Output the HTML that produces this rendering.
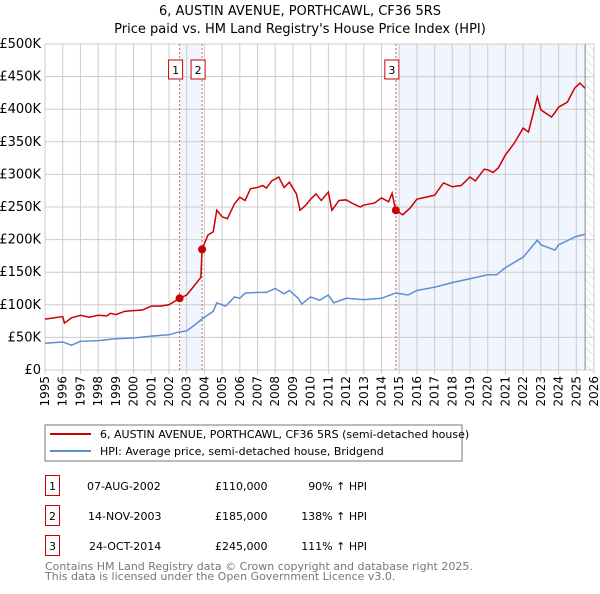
<!DOCTYPE html>
<html><head><meta charset="utf-8"><style>
body{margin:0;background:#fff;font-family:"DejaVu Sans","Liberation Sans",sans-serif;}
svg text{font-family:"DejaVu Sans","Liberation Sans",sans-serif;}
</style></head><body>
<svg id="c" width="600" height="590" xmlns="http://www.w3.org/2000/svg">
<defs><pattern id="hatch" width="6" height="6" patternUnits="userSpaceOnUse" patternTransform="rotate(-45)"><line x1="0" y1="0" x2="0" y2="6" stroke="#ccc" stroke-width="1"/></pattern></defs>
<text x="300" y="15" text-anchor="middle" font-size="13">6, AUSTIN AVENUE, PORTHCAWL, CF36 5RS</text>
<text x="300" y="33" text-anchor="middle" font-size="13">Price paid vs. HM Land Registry's House Price Index (HPI)</text>
<g id="plot"></g>
<rect x="45" y="425" width="417" height="36" fill="#fff" stroke="#777"/>
<line x1="50" y1="434" x2="91" y2="434" stroke="#cc0000" stroke-width="2"/>
<text x="100" y="438" font-size="11">6, AUSTIN AVENUE, PORTHCAWL, CF36 5RS (semi-detached house)</text>
<line x1="50" y1="451" x2="91" y2="451" stroke="#5b8fd4" stroke-width="2"/>
<text x="100" y="455" font-size="11">HPI: Average price, semi-detached house, Bridgend</text>
<g font-size="11">
<rect x="45.5" y="475.5" width="14" height="20" fill="none" stroke="#cc0000"/><text x="52.5" y="490" text-anchor="middle">1</text>
<text x="87" y="490">07-AUG-2002</text><text x="215" y="490">£110,000</text><text x="367" y="490" text-anchor="end">90% ↑ HPI</text>
<rect x="45.5" y="505.5" width="14" height="20" fill="none" stroke="#cc0000"/><text x="52.5" y="520" text-anchor="middle">2</text>
<text x="88" y="520">14-NOV-2003</text><text x="215" y="520">£185,000</text><text x="367" y="520" text-anchor="end">138% ↑ HPI</text>
<rect x="45.5" y="535.5" width="14" height="20" fill="none" stroke="#cc0000"/><text x="52.5" y="550" text-anchor="middle">3</text>
<text x="89" y="550">24-OCT-2014</text><text x="215" y="550">£245,000</text><text x="367" y="550" text-anchor="end">111% ↑ HPI</text>
</g>
<text x="45" y="570" font-size="11" fill="#777">Contains HM Land Registry data © Crown copyright and database right 2025.</text>
<text x="45" y="580" font-size="11" fill="#777">This data is licensed under the Open Government Licence v3.0.</text>
</svg>
<script>
const yTicks=[0,50,100,150,200,250,300,350,400,450,500];
const yLabels=["£0","£50K","£100K","£150K","£200K","£250K","£300K","£350K","£400K","£450K","£500K"];
const xYears=[1995,1996,1997,1998,1999,2000,2001,2002,2003,2004,2005,2006,2007,2008,2009,2010,2011,2012,2013,2014,2015,2016,2017,2018,2019,2020,2021,2022,2023,2024,2025,2026];
const redT=[1995.0,1995.5,1996.0,1996.1,1996.5,1997.0,1997.5,1998.0,1998.5,1998.7,1999.0,1999.5,2000.0,2000.5,2001.0,2001.5,2002.0,2002.6,2003.0,2003.3,2003.8,2003.87,2004.2,2004.5,2004.7,2005.0,2005.3,2005.7,2006.0,2006.3,2006.6,2007.0,2007.3,2007.5,2007.8,2008.2,2008.5,2008.8,2009.2,2009.4,2009.7,2010.0,2010.3,2010.6,2011.0,2011.2,2011.6,2012.0,2012.4,2012.8,2013.0,2013.6,2014.0,2014.4,2014.6,2014.8,2015.2,2015.6,2016.0,2016.5,2017.0,2017.5,2018.0,2018.5,2019.0,2019.3,2019.8,2020.0,2020.3,2020.6,2021.0,2021.5,2022.0,2022.3,2022.8,2023.0,2023.6,2023.8,2024.0,2024.5,2024.9,2025.2,2025.5];
const redV=[78,80,82,72,80,84,81,84,83,87,85,90,91,92,98,98,100,110,115,125,142,185,207,212,245,235,232,255,265,260,278,280,283,279,290,296,280,288,270,245,252,262,270,260,273,245,260,261,255,250,253,256,264,258,271,245,238,248,262,265,268,287,281,283,296,290,308,307,303,310,330,348,371,365,419,399,388,395,403,411,432,440,432];
const blueT=[1995.0,1995.5,1996.0,1996.5,1997.0,1998.0,1999.0,2000.0,2001.0,2002.0,2002.5,2003.0,2003.5,2003.9,2004.5,2004.7,2005.2,2005.7,2006.0,2006.3,2007.0,2007.5,2008.0,2008.5,2008.8,2009.3,2009.5,2009.8,2010.0,2010.5,2011.0,2011.3,2012.0,2013.0,2014.0,2014.8,2015.5,2016.0,2017.0,2018.0,2019.0,2020.0,2020.5,2021.0,2022.0,2022.8,2023.0,2023.8,2024.0,2025.0,2025.5];
const blueV=[41,42,43,38,44,45,48,49,52,54,58,60,70,79,90,103,98,112,110,118,119,119,125,117,122,110,101,108,112,107,115,103,110,108,110,118,115,122,127,134,140,146,146,157,173,199,192,184,192,205,208];
const sales=[[2002.6,110],[2003.87,185],[2014.81,245]];
const saleLabels=["1","2","3"];
const X0=45,X1=594,Y0=370,Y1=44;
const xs=t=>X0+(t-1995)/(2026-1995)*(X1-X0);
const ys=v=>Y0-v/500*(Y0-Y1);
const NS="http://www.w3.org/2000/svg";
const g=document.getElementById('plot');
function mk(tag,at){const e=document.createElementNS(NS,tag);for(const k in at)e.setAttribute(k,at[k]);g.appendChild(e);return e;}
let e;
e=mk('rect',{x:xs(sales[0][0]),y:Y1,width:xs(sales[1][0])-xs(sales[0][0]),height:Y0-Y1,fill:'#f1f5fd'});


e=mk('rect',{x:xs(sales[2][0]),y:Y1,width:xs(2025.5)-xs(sales[2][0]),height:Y0-Y1,fill:'#f1f5fd'});


e=mk('rect',{x:xs(2025.5),y:Y1,width:X1-xs(2025.5),height:Y0-Y1,fill:'url(#hatch)'});


yTicks.forEach((v,i)=>{
 e=mk('line',{x1:X0,x2:X1,y1:ys(v),y2:ys(v),stroke:'#ccc','stroke-width':1});
 
 
 e=mk('text',{x:X0-4,y:ys(v)+4,'text-anchor':'end','font-size':13});e.textContent=yLabels[i];
 
 
});
xYears.forEach(yr=>{
 e=mk('line',{x1:xs(yr),x2:xs(yr),y1:Y1,y2:Y0+4,stroke:'#ccc','stroke-width':1});
 
 
 e=mk('text',{x:0,y:0,'text-anchor':'end','font-size':12,transform:`translate(${xs(yr)+4},${Y0+6}) rotate(-90)`});e.textContent=yr;
 
 
});
e=mk('line',{x1:xs(2025.5),x2:xs(2025.5),y1:Y1,y2:Y0,stroke:'#888','stroke-width':1});


sales.forEach((s,i)=>{
 e=mk('line',{x1:xs(s[0]),x2:xs(s[0]),y1:Y1,y2:Y0,stroke:'#e06060','stroke-width':1,'stroke-dasharray':'2,2'});
 
 
 e=mk('rect',{x:xs(s[0])-11,y:60,width:14,height:19,fill:'#fff',stroke:'#cc0000'});
 
 
 e=mk('text',{x:xs(s[0])-4,y:74,'text-anchor':'middle','font-size':11});e.textContent=saleLabels[i];
 
 
});
e=mk('polyline',{points:blueT.map((t,i)=>xs(t)+','+ys(blueV[i])).join(' '),fill:'none',stroke:'#5b8fd4','stroke-width':1.5});


e=mk('polyline',{points:redT.map((t,i)=>xs(t)+','+ys(redV[i])).join(' '),fill:'none',stroke:'#cc0000','stroke-width':1.5});


sales.forEach(s=>{
 e=mk('circle',{cx:xs(s[0]),cy:ys(s[1]),r:4,fill:'#cc0000'});
 
 
});
</script>
</body></html>
